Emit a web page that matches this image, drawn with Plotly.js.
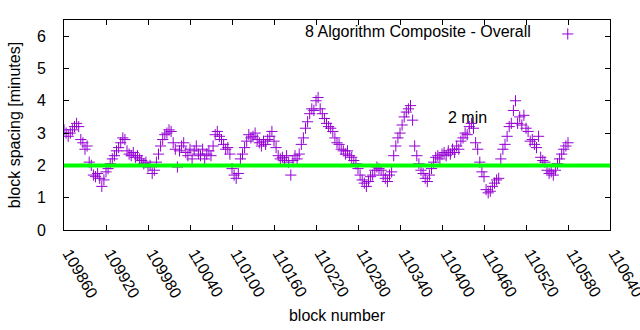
<!DOCTYPE html>
<html>
<head>
<meta charset="utf-8">
<script src="https://cdn.plot.ly/plotly-3.0.1.min.js"></script>
<style>html,body{margin:0;padding:0;background:#fff;}#chart{width:640px;height:330px;}</style>
</head>
<body>
<div id="chart"></div>
<script>
var blockStart = 109860;
var blockStep = 3;
var spacingMinutes = [
  3.1, 3.0, 2.9, 3.0, 3.1, 3.2, 3.3, 3.2,
  2.8, 2.7, 2.5, 2.6,
  2.1, 2.0,
  1.7, 1.65, 1.75, 1.6,
  1.35, 1.55,
  1.8, 1.9, 2.05,
  2.2, 2.3, 2.45, 2.55, 2.7, 2.85,
  2.8,
  2.45, 2.35, 2.3, 2.4,
  2.25, 2.3, 2.2, 2.15,
  2.05, 2.1, 1.95, 2.0,
  1.75, 1.85, 2.1,
  2.35, 2.6,
  2.8, 2.95, 3.0, 3.1, 3.05,
  2.7, 2.5,
  1.95,
  2.45, 2.6, 2.7, 2.4,
  2.3, 2.5, 2.2, 2.45, 2.6, 2.35,
  2.3, 2.5, 2.2, 2.35, 2.45, 2.3,
  2.6, 2.95, 3.05, 2.9, 2.8,
  2.65, 2.5, 2.55, 2.35,
  1.9, 1.7, 1.6, 1.75,
  2.2, 2.35,
  2.55, 2.75, 2.95, 2.85,
  2.9, 3.0, 2.8, 2.7,
  2.6, 2.75, 2.65, 2.8, 2.9, 3.05,
  2.75, 2.55, 2.3,
  2.2, 2.25, 2.15, 2.3, 2.1, 1.7,
  2.15, 2.3, 2.2, 2.35,
  2.65, 2.85,
  3.15, 3.35, 3.6, 3.75, 3.7,
  4.0, 4.1,
  3.75, 3.6, 3.45, 3.3,
  3.2, 3.15, 3.05, 2.85,
  2.7, 2.65, 2.5, 2.45,
  2.35, 2.45, 2.3, 2.25,
  2.15, 2.05, 1.9,
  1.7, 1.55, 1.45, 1.35,
  1.5, 1.65, 1.7, 1.85,
  1.95, 1.9, 1.85,
  1.7, 1.6, 1.5, 1.7,
  1.8, 2.3,
  2.6, 2.85, 3.0,
  3.25, 3.5, 3.65, 3.75,
  3.85, 3.4,
  2.6, 2.3, 2.05,
  1.85, 1.75, 1.6, 1.5,
  1.7, 1.9, 2.1,
  2.25, 2.3, 2.2, 2.35, 2.4,
  2.3, 2.45, 2.35, 2.5,
  2.4, 2.6, 2.5,
  2.75, 2.85, 3.0, 2.95,
  3.2, 3.3, 3.15,
  2.7, 2.5,
  2.1,
  1.8, 1.65,
  1.25, 1.15, 1.2,
  1.35, 1.45, 1.55,
  1.6,
  2.2,
  2.5, 2.65, 2.9,
  3.2, 3.3, 3.7,
  4.0,
  3.3, 3.5, 3.25,
  3.55, 3.15, 3.05,
  2.75, 2.8, 2.65,
  2.55, 2.9,
  2.25, 2.15, 2.1,
  1.85, 1.75, 1.8, 1.7,
  1.85, 2.05,
  2.2, 2.35, 2.5,
  2.6, 2.7
];
var seriesName = "8 Algorithm Composite - Overall";
var referenceMinutes = 2;
var referenceLabel = "2 min";
var xTickValues = [109860, 109920, 109980, 110040, 110100, 110160, 110220, 110280, 110340, 110400, 110460, 110520, 110580, 110640];
var yTickValues = [0, 1, 2, 3, 4, 5, 6];

var blocks = spacingMinutes.map(function (_, i) { return blockStart + i * blockStep; });

var FONT = "Liberation Sans, Arial, sans-serif";
var FS = 16;

var traces = [{
  x: blocks,
  y: spacingMinutes,
  type: "scatter",
  mode: "markers",
  name: "",
  showlegend: true,
  marker: { symbol: "cross-thin-open", size: 8, color: "#9400d3", line: { color: "#9400d3", width: 1 } }
}];

var layout = {
  width: 640, height: 330,
  margin: { l: 64, r: 30, t: 20, b: 100 },
  paper_bgcolor: "#ffffff", plot_bgcolor: "#ffffff",
  font: { family: FONT, size: FS, color: "#000" },
  showlegend: true,
  legend: { x: 0.886, y: 1.014, xanchor: "left", yanchor: "top", bgcolor: "rgba(0,0,0,0)", font: { size: FS }, itemwidth: 30, tracegroupgap: 0 },
  xaxis: {
    range: [109860, 110640],
    tickvals: xTickValues,
    ticktext: xTickValues.map(String),
    tickangle: 60,
    ticks: "inside", ticklen: 5, tickcolor: "#000",
    showline: true, linecolor: "#000", linewidth: 1, mirror: "allticks",
    showgrid: false, zeroline: false,
    ticklabelstandoff: 7,
    ticklabelshift: 5,
    ticklabeloverflow: "allow",
    tickfont: { family: FONT, size: FS, color: "#000" },
    title: { text: "block number", font: { family: FONT, size: FS, color: "#000" }, standoff: 9 }
  },
  yaxis: {
    range: [0, 6.5],
    tickvals: yTickValues,
    ticks: "inside", ticklen: 5, tickcolor: "#000",
    showline: true, linecolor: "#000", linewidth: 1, mirror: "allticks",
    showgrid: false, zeroline: false,
    ticklabelstandoff: 14,
    tickfont: { family: FONT, size: FS, color: "#000" },
    title: { text: "block spacing [minutes]", font: { family: FONT, size: FS, color: "#000" }, standoff: 12 }
  },
  shapes: [{
    type: "line", xref: "paper", x0: 0, x1: 1, yref: "y", y0: referenceMinutes, y1: referenceMinutes,
    line: { color: "#00ff00", width: 4 }, layer: "above"
  }],
  annotations: [
    { xref: "paper", yref: "paper", x: 0.859, y: 0.943, xanchor: "right", yanchor: "middle", text: seriesName, showarrow: false, font: { family: FONT, size: FS, color: "#000" } },
    { xref: "x", yref: "y", x: 110405, y: 3.48, xanchor: "left", yanchor: "middle", text: referenceLabel, showarrow: false, font: { family: FONT, size: FS, color: "#000" } }
  ]
};

Plotly.newPlot("chart", traces, layout, { staticPlot: true, displayModeBar: false });
</script>
</body>
</html>
